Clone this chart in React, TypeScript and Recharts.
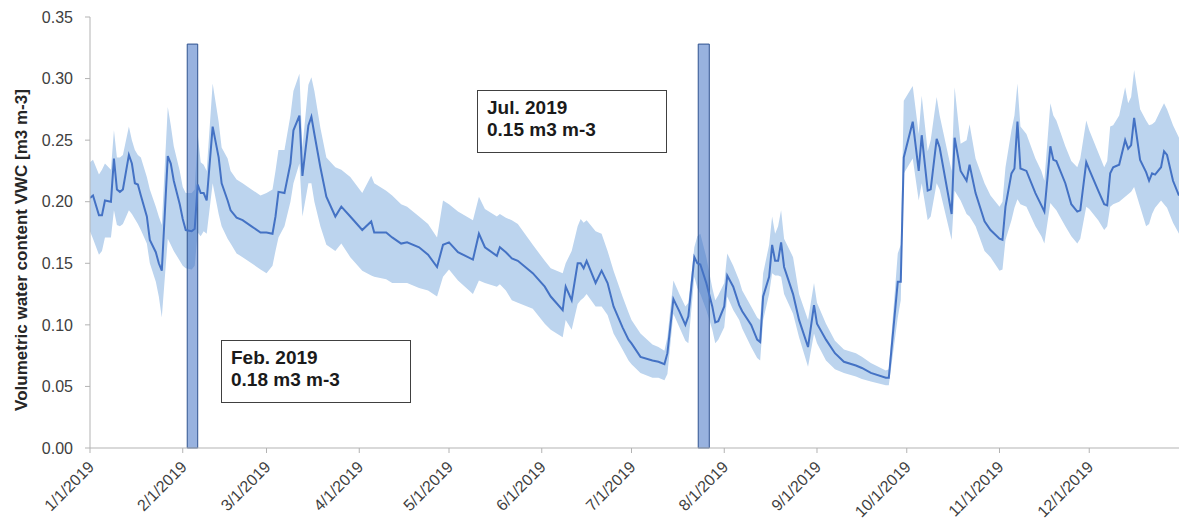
import React from "react";
import {
  ComposedChart,
  Area,
  Line,
  XAxis,
  YAxis,
  ReferenceArea,
  Label,
} from "recharts";

// day of year (0 = 1/1/2019)
const days = [
  0, 1, 3, 4, 5, 7, 8, 9, 10, 11,
  13, 14, 15, 16, 17, 19, 20, 22, 23, 24,
  26, 27, 28, 30, 31, 32, 34, 35, 36, 37,
  38, 39, 41, 43, 44, 46, 47, 49, 51, 54,
  57, 59, 61, 62, 63, 65, 67, 68, 70, 71,
  73, 74, 75, 77, 79, 82, 84, 87, 91, 94,
  95, 99, 101, 104, 106, 110, 113, 116, 118, 120,
  123, 128, 130, 132, 136, 137, 139, 141, 143, 148,
  152, 154, 158, 159, 161, 163, 164, 165, 166, 169,
  171, 173, 175, 178, 180, 181, 184, 188, 190, 192,
  193, 195, 197, 199, 200, 202, 203, 204, 206, 208,
  209, 210, 212, 213, 215, 217, 218, 221, 223, 224,
  225, 227, 228, 229, 230, 231, 232, 235, 237, 240,
  242, 243, 246, 249, 252, 256, 258, 261, 266, 267,
  270, 271, 272, 275, 277, 278, 280, 281, 283, 284,
  288, 289, 291, 293, 294, 296, 299, 301, 304, 305,
  306, 308, 309, 310, 311, 313, 316, 318, 319, 321,
  322, 323, 326, 328, 330, 331, 333, 334, 337, 339,
  340, 341, 342, 344, 346, 347, 348, 349, 351, 353,
  354, 355, 356, 358, 359, 360, 362, 364,
];

const vwcMean = [
  0.203, 0.205, 0.189, 0.189, 0.201, 0.2, 0.235, 0.21, 0.208, 0.21,
  0.238, 0.231, 0.215, 0.214, 0.205, 0.188, 0.169, 0.159, 0.15, 0.144,
  0.237, 0.231, 0.217, 0.198, 0.186, 0.177, 0.176, 0.178, 0.214, 0.207,
  0.207, 0.201, 0.261, 0.236, 0.215, 0.201, 0.193, 0.187, 0.185, 0.18,
  0.175, 0.175, 0.174, 0.188, 0.208, 0.207, 0.231, 0.258, 0.27, 0.221,
  0.262, 0.269, 0.255, 0.228, 0.204, 0.188, 0.196, 0.188, 0.177, 0.184,
  0.175, 0.175, 0.171, 0.166, 0.167, 0.163, 0.157, 0.147, 0.165, 0.167,
  0.159, 0.153, 0.174, 0.163, 0.156, 0.163, 0.159, 0.154, 0.152, 0.142,
  0.131, 0.123, 0.112, 0.131, 0.12, 0.15, 0.15, 0.146, 0.152, 0.134,
  0.144, 0.134, 0.115, 0.098, 0.088, 0.085, 0.074, 0.071, 0.07, 0.068,
  0.077, 0.121, 0.111, 0.1, 0.107, 0.155, 0.15, 0.149, 0.134, 0.115,
  0.102, 0.103, 0.115, 0.14, 0.131, 0.116, 0.111, 0.1, 0.088, 0.086,
  0.123, 0.139, 0.165, 0.152, 0.152, 0.167, 0.147, 0.125, 0.104, 0.082,
  0.116, 0.101, 0.088, 0.077, 0.07, 0.067, 0.065, 0.061, 0.057, 0.057,
  0.135, 0.135, 0.236, 0.265, 0.225, 0.254, 0.209, 0.21, 0.251, 0.244,
  0.19, 0.252, 0.225, 0.217, 0.23, 0.207, 0.184, 0.177, 0.17, 0.169,
  0.196, 0.223, 0.227, 0.265, 0.227, 0.225, 0.207, 0.197, 0.192, 0.245,
  0.234, 0.233, 0.215, 0.198, 0.192, 0.193, 0.232, 0.226, 0.209, 0.198,
  0.197, 0.223, 0.228, 0.23, 0.25, 0.243, 0.246, 0.268, 0.234, 0.224,
  0.217, 0.223, 0.222, 0.228, 0.241, 0.238, 0.217, 0.205,
];

const vwcLow = [
  0.176, 0.17, 0.157, 0.16, 0.171, 0.171, 0.193, 0.181, 0.18, 0.182,
  0.193, 0.19, 0.186, 0.182, 0.177, 0.166, 0.15, 0.135, 0.123, 0.106,
  0.17, 0.165, 0.16, 0.152, 0.148, 0.146, 0.145, 0.148, 0.175, 0.172,
  0.176, 0.174, 0.215, 0.19, 0.18, 0.17, 0.166, 0.158, 0.155, 0.15,
  0.145, 0.142, 0.148, 0.16, 0.171, 0.18, 0.2, 0.215, 0.231, 0.188,
  0.215, 0.215, 0.2, 0.18, 0.165, 0.16, 0.166, 0.155, 0.144, 0.14,
  0.139, 0.137, 0.134, 0.134, 0.134, 0.13, 0.128, 0.123, 0.139, 0.145,
  0.136, 0.125, 0.136, 0.134, 0.131, 0.133, 0.128, 0.12, 0.118, 0.113,
  0.101, 0.096, 0.09, 0.104, 0.096, 0.117, 0.12, 0.122, 0.125, 0.115,
  0.115, 0.108, 0.093, 0.08, 0.071, 0.068, 0.061, 0.057, 0.057, 0.055,
  0.06, 0.109, 0.098, 0.087, 0.085, 0.139, 0.13, 0.125, 0.112, 0.096,
  0.085, 0.088, 0.098, 0.123, 0.112, 0.104, 0.097, 0.082, 0.073, 0.071,
  0.104, 0.125, 0.142, 0.14, 0.14, 0.139, 0.125, 0.109, 0.09, 0.066,
  0.093, 0.085, 0.071, 0.064, 0.061, 0.058, 0.056, 0.054, 0.051, 0.051,
  0.106, 0.12, 0.223, 0.235, 0.201, 0.215, 0.185, 0.188, 0.215, 0.21,
  0.169, 0.209, 0.201, 0.19, 0.188, 0.18, 0.16, 0.155, 0.144, 0.145,
  0.169, 0.185, 0.195, 0.202, 0.198, 0.196, 0.18, 0.172, 0.166, 0.199,
  0.196, 0.193, 0.18, 0.172, 0.166, 0.17, 0.196, 0.194, 0.185, 0.177,
  0.18, 0.196, 0.198, 0.2, 0.204, 0.206, 0.208, 0.212, 0.196, 0.18,
  0.182, 0.19, 0.195, 0.201, 0.198, 0.195, 0.183, 0.174,
];

const vwcHigh = [
  0.232, 0.234, 0.222, 0.226, 0.231, 0.226, 0.258, 0.236, 0.236, 0.238,
  0.261, 0.25, 0.242, 0.238, 0.236, 0.22, 0.21, 0.196, 0.188, 0.181,
  0.277, 0.262, 0.245, 0.225, 0.212, 0.207, 0.207, 0.21, 0.255, 0.232,
  0.23, 0.225, 0.296, 0.265, 0.244, 0.235, 0.225, 0.218, 0.215, 0.21,
  0.205, 0.207, 0.21, 0.225, 0.242, 0.242, 0.27, 0.29, 0.304, 0.244,
  0.295, 0.301, 0.29, 0.26, 0.236, 0.228, 0.226, 0.22, 0.207, 0.221,
  0.215, 0.209, 0.205, 0.198, 0.196, 0.188, 0.182, 0.171, 0.201, 0.198,
  0.192, 0.185, 0.204, 0.194, 0.188, 0.19, 0.187, 0.185, 0.182, 0.165,
  0.152, 0.146, 0.142, 0.15, 0.16, 0.18, 0.186, 0.183, 0.185, 0.176,
  0.174, 0.16, 0.144, 0.123, 0.11, 0.104, 0.093, 0.084, 0.082, 0.079,
  0.09, 0.136, 0.125, 0.115, 0.118, 0.163, 0.172, 0.174, 0.155, 0.13,
  0.12, 0.124, 0.134, 0.158, 0.148, 0.136, 0.128, 0.115, 0.106, 0.104,
  0.142, 0.165, 0.188, 0.174, 0.18, 0.193, 0.17, 0.155, 0.125, 0.104,
  0.134, 0.118, 0.101, 0.087, 0.08, 0.077, 0.074, 0.069, 0.063, 0.064,
  0.158, 0.165, 0.282, 0.294, 0.255, 0.286, 0.241, 0.25, 0.285, 0.27,
  0.225, 0.293, 0.247, 0.25, 0.263, 0.235, 0.215, 0.205, 0.196, 0.2,
  0.228, 0.258, 0.27, 0.296, 0.261, 0.255, 0.235, 0.225, 0.217, 0.28,
  0.27, 0.266, 0.245, 0.233, 0.228, 0.235, 0.266, 0.258, 0.24, 0.228,
  0.233, 0.261, 0.262, 0.27, 0.293, 0.28, 0.285, 0.307, 0.275, 0.266,
  0.262, 0.263, 0.265, 0.275, 0.28, 0.275, 0.262, 0.252,
];

const monthTicks = [0, 31, 59, 90, 120, 151, 181, 212, 243, 273, 304, 334];
const monthLabels = [
  "1/1/2019", "2/1/2019", "3/1/2019", "4/1/2019", "5/1/2019", "6/1/2019",
  "7/1/2019", "8/1/2019", "9/1/2019", "10/1/2019", "11/1/2019", "12/1/2019",
];
const yTicks = [0, 0.05, 0.1, 0.15, 0.2, 0.25, 0.3, 0.35];

// sampling campaigns (vertical bars)
const campaignStart = [32.5, 203.3];
const campaignEnd = [36, 207];
const campaignTop = 0.328;
const campaignTitles = ["Feb. 2019", "Jul. 2019"];
const campaignValues = ["0.18 m3 m-3", "0.15 m3 m-3"];

const FONT = "'Liberation Sans', Arial, sans-serif";

const data = days.map((d, i) => ({
  day: d,
  mean: vwcMean[i],
  band: [vwcLow[i], vwcHigh[i]],
}));

function MonthTick({ x, y, payload }: any) {
  const idx = monthTicks.indexOf(payload.value);
  const ax = x + 5;
  const ay = y + 15;
  return (
    <text
      x={ax}
      y={ay}
      textAnchor="end"
      transform={`rotate(-45, ${ax}, ${ay})`}
      fill="#404040"
      fontSize={16}
      fontFamily={FONT}
    >
      {monthLabels[idx]}
    </text>
  );
}

const boxPos = [
  { left: 221, top: 340 },
  { left: 477, top: 90 },
];

export default function App() {
  return (
    <div style={{ position: "absolute", left: 0, top: 0, width: 1179, height: 525, background: "#fff" }}>
      <ComposedChart
        width={1179}
        height={525}
        data={data}
        margin={{ top: 17, right: 0, left: 0, bottom: 0 }}
      >
        <XAxis
          dataKey="day"
          type="number"
          domain={[0, 364]}
          ticks={monthTicks}
          interval={0}
          allowDataOverflow
          height={77}
          tickSize={5}
          tickMargin={0}
          axisLine={{ stroke: "#b3b3b3" }}
          tickLine={{ stroke: "#b3b3b3" }}
          tick={<MonthTick />}
        />
        <YAxis
          type="number"
          domain={[0, 0.35]}
          ticks={yTicks}
          interval={0}
          width={90}
          tickSize={5}
          tickMargin={12}
          tickFormatter={(v: number) => v.toFixed(2)}
          axisLine={{ stroke: "#b3b3b3" }}
          tickLine={{ stroke: "#b3b3b3" }}
          tick={{ fill: "#404040", fontSize: 16, fontFamily: FONT }}
        >
          <Label
            content={() => (
              <text
                x={27}
                y={250}
                textAnchor="middle"
                transform="rotate(-90, 27, 250)"
                fontSize={17}
                fontWeight="bold"
                fontFamily={FONT}
                fill="#262626"
              >
                Volumetric water content VWC [m3 m-3]
              </text>
            )}
          />
        </YAxis>
        <Area
          dataKey="band"
          type="linear"
          stroke="none"
          fill="#bcd4ee"
          fillOpacity={1}
          isAnimationActive={false}
          activeDot={false}
          dot={false}
        />
        {campaignStart.map((s, i) => (
          <ReferenceArea
            key={i}
            x1={s}
            x2={campaignEnd[i]}
            y1={0}
            y2={campaignTop}
            fill="#4472c4"
            fillOpacity={0.55}
            stroke="#2f528f"
            strokeWidth={1}
            ifOverflow="visible"
          />
        ))}
        <Line
          dataKey="mean"
          type="linear"
          stroke="#4472c4"
          strokeWidth={2}
          dot={false}
          activeDot={false}
          isAnimationActive={false}
        />
      </ComposedChart>
      {boxPos.map((p, i) => (
        <div
          key={i}
          style={{
            position: "absolute",
            left: p.left,
            top: p.top,
            width: 190,
            height: 63,
            boxSizing: "border-box",
            border: "1px solid #404040",
            background: "#fff",
            padding: "6px 0 0 9px",
            fontFamily: FONT,
            fontWeight: "bold",
            fontSize: 19,
            lineHeight: "22px",
            color: "#1a1a1a",
          }}
        >
          <div>{campaignTitles[i]}</div>
          <div>{campaignValues[i]}</div>
        </div>
      ))}
    </div>
  );
}
